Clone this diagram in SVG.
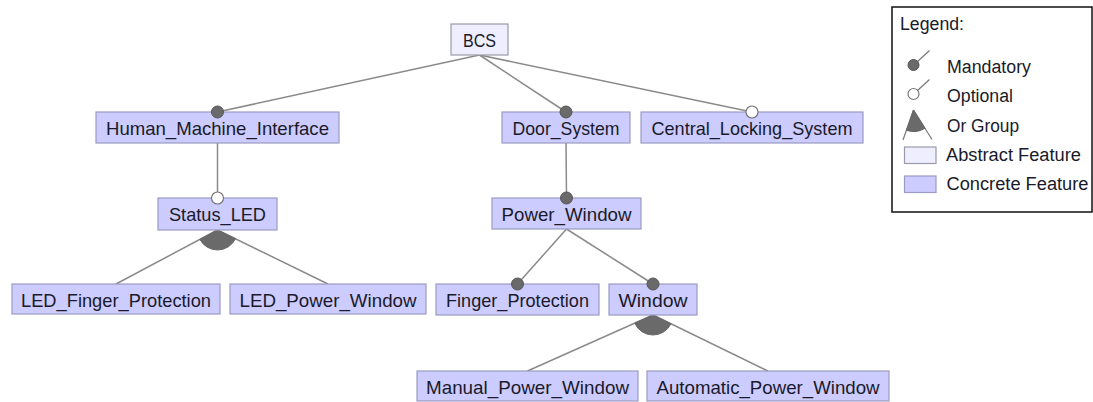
<svg xmlns="http://www.w3.org/2000/svg" width="1093" height="402" viewBox="0 0 1093 402">
<style>
.bg{fill:#ffffff}
.concrete{fill:#ccccff;stroke:#9a9ac4;stroke-width:1.2}
.abstract{fill:#eeeeff;stroke:#9a9aa8;stroke-width:1.2}
.lbl{font-family:"Liberation Sans",Arial,sans-serif;font-size:19px;fill:#1a1a2a;text-anchor:middle}
.leg{font-family:"Liberation Sans",Arial,sans-serif;font-size:18px;fill:#1a1a2a}
.edge{stroke:#8a8a8a;stroke-width:1.5;fill:none}
.mand{fill:#6a6a6a;stroke:#555555;stroke-width:1}
.opt{fill:#ffffff;stroke:#777777;stroke-width:1.2}
.or{fill:#6a6a6a;stroke:#666666;stroke-width:1}
</style>
<rect class="bg" x="0" y="0" width="1093" height="402"/>
<g id="connectors">
<line class="edge" x1="479.5" y1="55" x2="217.5" y2="112"/>
<line class="edge" x1="479.5" y1="55" x2="566" y2="112"/>
<line class="edge" x1="479.5" y1="55" x2="752" y2="112"/>
<line class="edge" x1="217.5" y1="143" x2="217.5" y2="198"/>
<line class="edge" x1="566" y1="143" x2="566.5" y2="198"/>
<line class="edge" x1="217.5" y1="230" x2="116" y2="284"/>
<line class="edge" x1="217.5" y1="230" x2="328" y2="284"/>
<line class="edge" x1="566.5" y1="229" x2="517.5" y2="284"/>
<line class="edge" x1="566.5" y1="229" x2="653" y2="284"/>
<line class="edge" x1="653" y1="315" x2="527.5" y2="371"/>
<line class="edge" x1="653" y1="315" x2="768" y2="371"/>
<path class="or" d="M217.5,230 L199.85,239.39 A20,20 0 0,0 235.47,238.78 Z"/>
<path class="or" d="M653,315 L634.73,323.15 A20,20 0 0,0 670.98,323.76 Z"/>
</g>
<g id="BCS">
<rect class="abstract" x="451" y="24" width="57" height="31"/>
<text class="lbl" x="479.5" y="46.5" textLength="33" lengthAdjust="spacingAndGlyphs">BCS</text>
</g>
<g id="Human_Machine_Interface">
<rect class="concrete" x="96" y="112" width="243" height="31"/>
<text class="lbl" x="217.5" y="135" textLength="223" lengthAdjust="spacingAndGlyphs">Human_Machine_Interface</text>
<circle class="mand" cx="217.5" cy="112" r="6"/>
</g>
<g id="Door_System">
<rect class="concrete" x="502" y="112" width="128" height="31"/>
<text class="lbl" x="566" y="135" textLength="107" lengthAdjust="spacingAndGlyphs">Door_System</text>
<circle class="mand" cx="566" cy="112" r="6"/>
</g>
<g id="Central_Locking_System">
<rect class="concrete" x="641" y="112" width="222" height="31"/>
<text class="lbl" x="752" y="135" textLength="201" lengthAdjust="spacingAndGlyphs">Central_Locking_System</text>
<circle class="opt" cx="752" cy="112" r="6"/>
</g>
<g id="Status_LED">
<rect class="concrete" x="158" y="198" width="119" height="32"/>
<text class="lbl" x="217.5" y="221" textLength="97" lengthAdjust="spacingAndGlyphs">Status_LED</text>
<circle class="opt" cx="217.5" cy="198" r="6"/>
</g>
<g id="Power_Window">
<rect class="concrete" x="492" y="198" width="149" height="31"/>
<text class="lbl" x="566.5" y="220.5" textLength="130" lengthAdjust="spacingAndGlyphs">Power_Window</text>
<circle class="mand" cx="566.5" cy="198" r="6"/>
</g>
<g id="LED_Finger_Protection">
<rect class="concrete" x="12" y="284" width="208" height="30"/>
<text class="lbl" x="116" y="306.5" textLength="190" lengthAdjust="spacingAndGlyphs">LED_Finger_Protection</text>
</g>
<g id="LED_Power_Window">
<rect class="concrete" x="230" y="284" width="196" height="30"/>
<text class="lbl" x="328" y="306.5" textLength="177" lengthAdjust="spacingAndGlyphs">LED_Power_Window</text>
</g>
<g id="Finger_Protection">
<rect class="concrete" x="436" y="284" width="163" height="31"/>
<text class="lbl" x="517.5" y="307" textLength="143" lengthAdjust="spacingAndGlyphs">Finger_Protection</text>
<circle class="mand" cx="517.5" cy="284" r="6"/>
</g>
<g id="Window">
<rect class="concrete" x="609" y="284" width="88" height="31"/>
<text class="lbl" x="653" y="307" textLength="69" lengthAdjust="spacingAndGlyphs">Window</text>
<circle class="mand" cx="653" cy="284" r="6"/>
</g>
<g id="Manual_Power_Window">
<rect class="concrete" x="417" y="371" width="221" height="30"/>
<text class="lbl" x="527.5" y="393.5" textLength="203" lengthAdjust="spacingAndGlyphs">Manual_Power_Window</text>
</g>
<g id="Automatic_Power_Window">
<rect class="concrete" x="647" y="371" width="242" height="30"/>
<text class="lbl" x="768" y="393.5" textLength="223" lengthAdjust="spacingAndGlyphs">Automatic_Power_Window</text>
</g>
<g id="legend">
<rect x="892" y="7" width="200" height="205" fill="#ffffff" stroke="#111111" stroke-width="1.5"/>
<text class="leg" x="900" y="30" textLength="64" lengthAdjust="spacingAndGlyphs">Legend:</text>
<line x1="917" y1="62" x2="929.5" y2="50.5" stroke="#777777" stroke-width="1.2"/>
<circle class="mand" cx="913.5" cy="65" r="5.5"/>
<text class="leg" x="947" y="72.5" textLength="84" lengthAdjust="spacingAndGlyphs">Mandatory</text>
<line x1="917.5" y1="90.5" x2="929.5" y2="79.5" stroke="#777777" stroke-width="1.2"/>
<circle class="opt" cx="913.5" cy="94" r="5.5"/>
<text class="leg" x="947" y="101.5" textLength="66" lengthAdjust="spacingAndGlyphs">Optional</text>
<line x1="913.5" y1="110" x2="903" y2="140" stroke="#777777" stroke-width="1.2"/>
<line x1="913.5" y1="110" x2="932" y2="139.5" stroke="#777777" stroke-width="1.2"/>
<path class="or" d="M913.5,110 L906.5,130.3 A21.5,21.5 0 0,0 925,128.3 Z"/>
<text class="leg" x="947" y="131.5" textLength="72" lengthAdjust="spacingAndGlyphs">Or Group</text>
<rect class="abstract" x="904.5" y="147" width="31.5" height="16.5"/>
<text class="leg" x="946" y="161" textLength="135" lengthAdjust="spacingAndGlyphs">Abstract Feature</text>
<rect class="concrete" x="904.5" y="176" width="31.5" height="16.5"/>
<text class="leg" x="946.5" y="190" textLength="142" lengthAdjust="spacingAndGlyphs">Concrete Feature</text>
</g>
</svg>
